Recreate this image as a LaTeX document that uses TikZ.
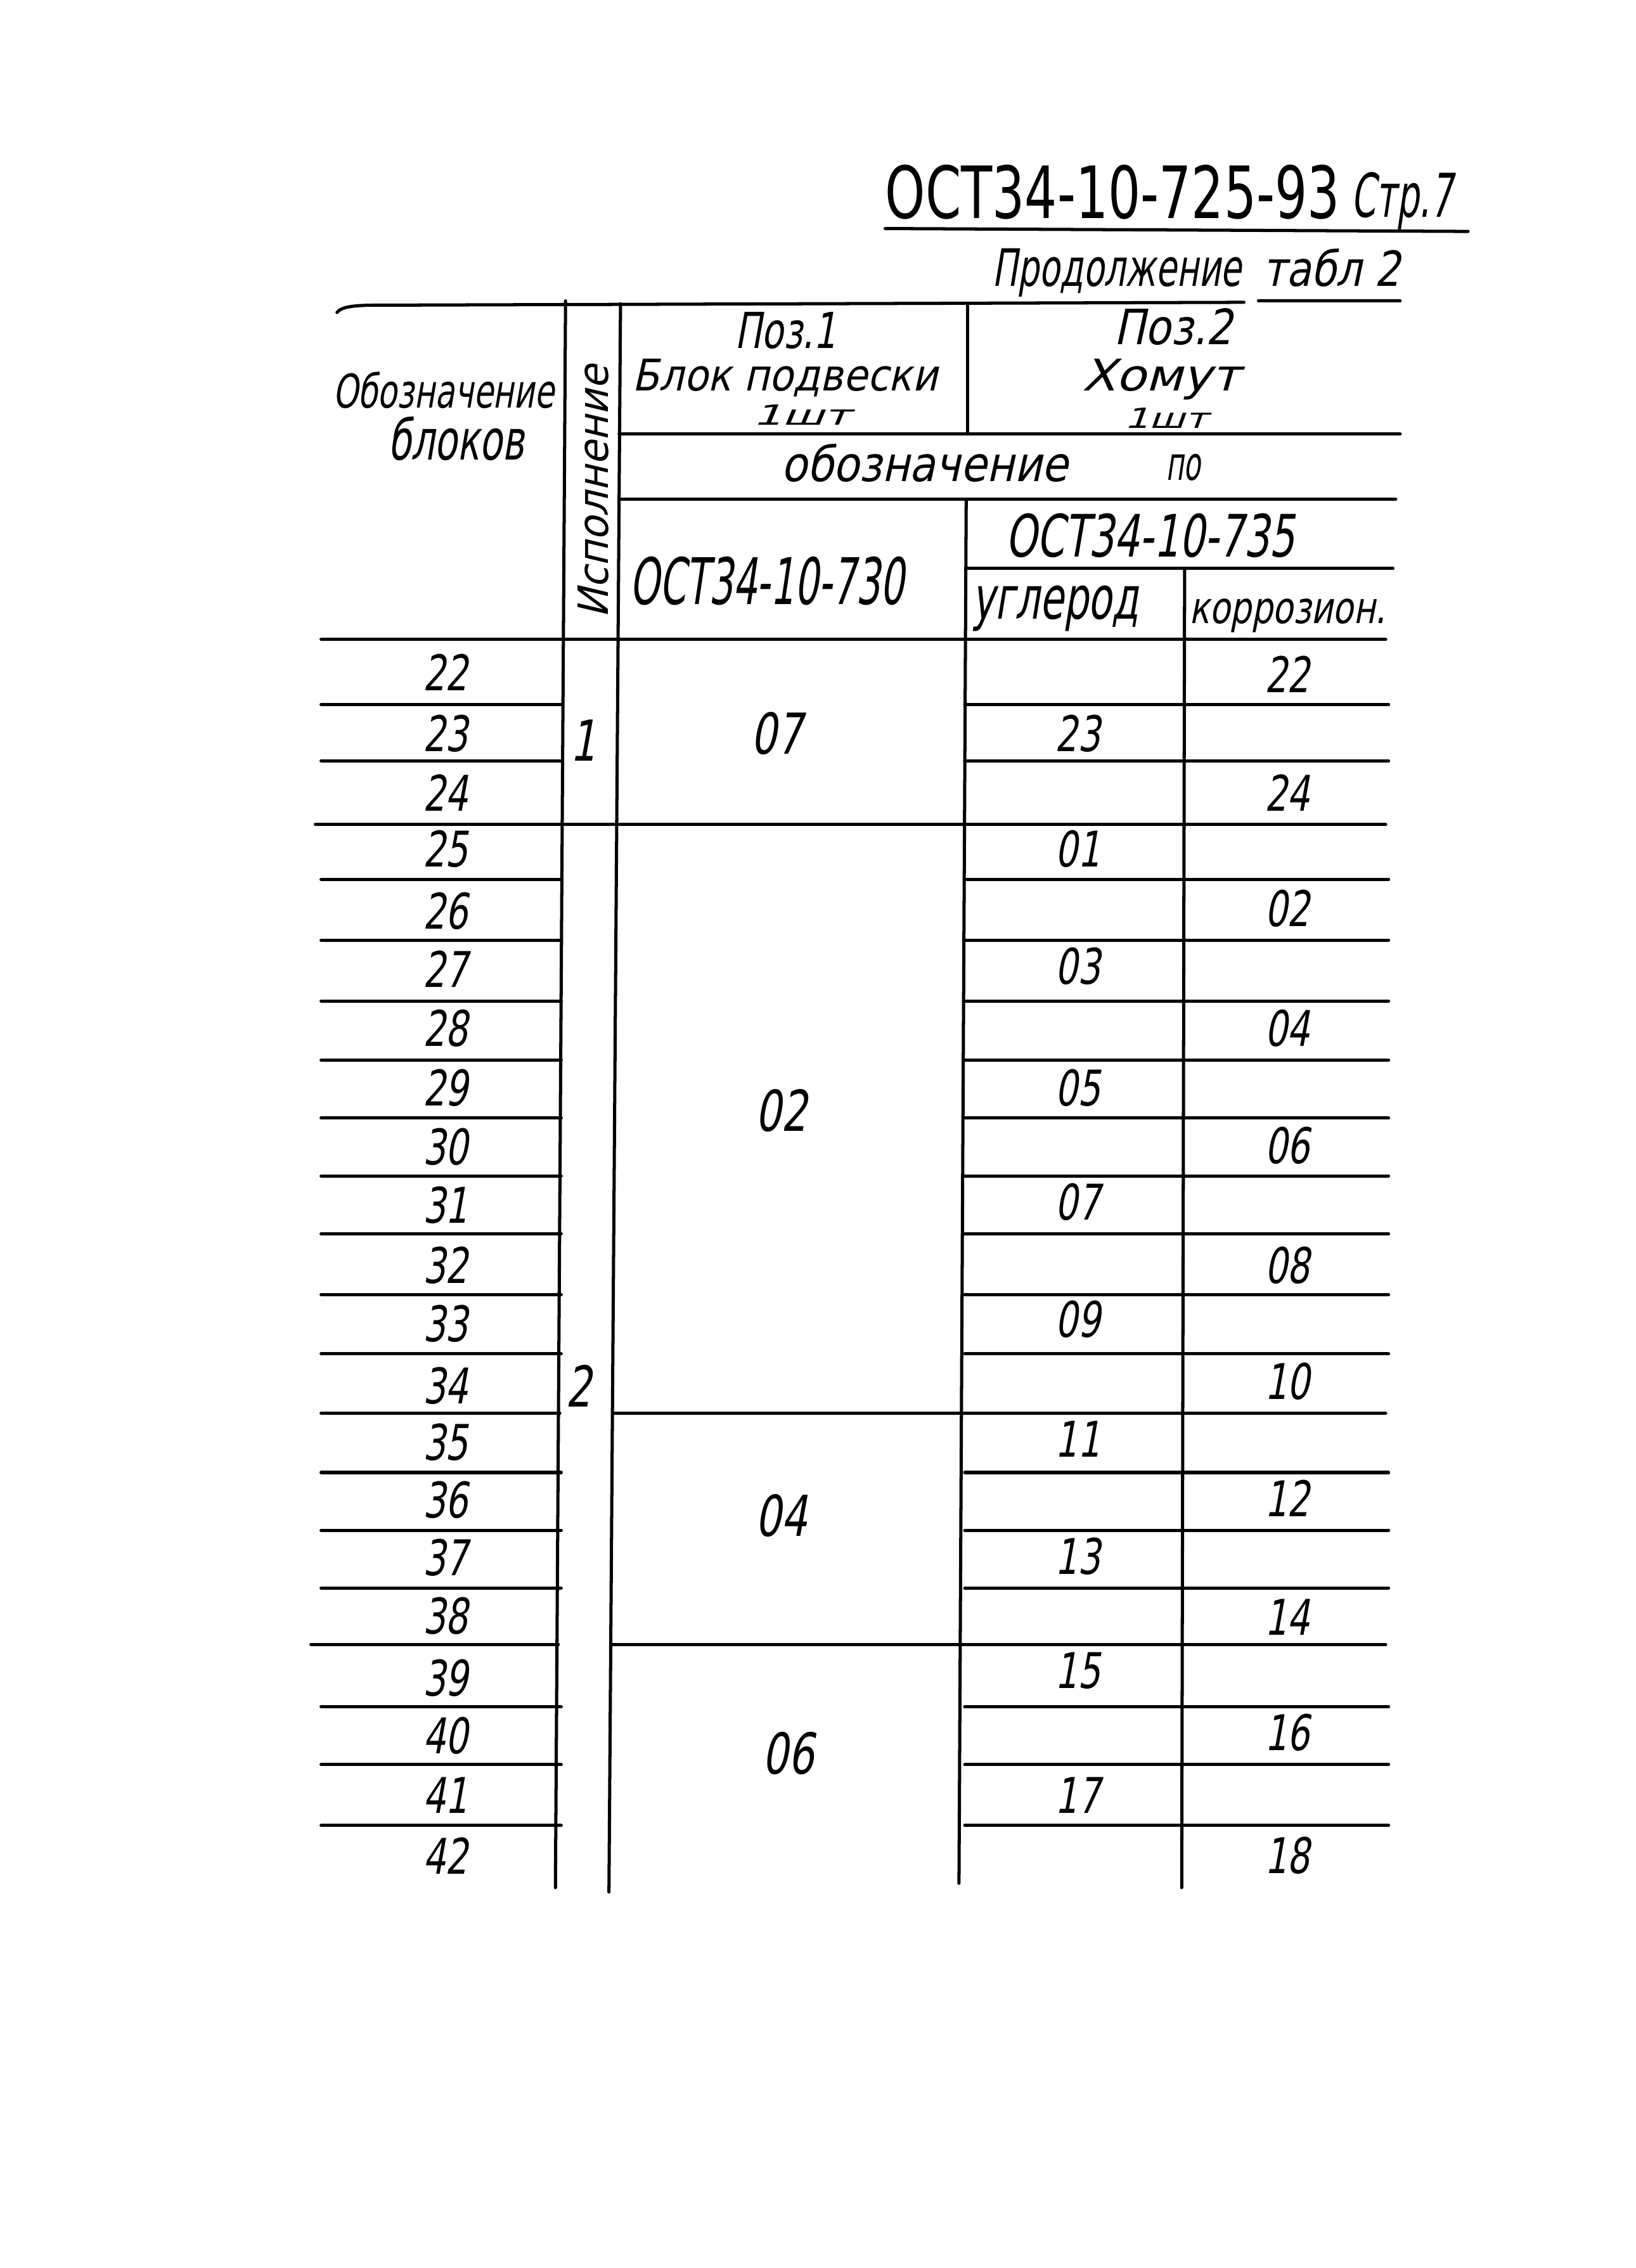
\documentclass[tikz,border=0pt]{standalone}
\usepackage{fontspec}
\usepackage{graphicx}
\newfontfamily\hand{DejaVu Sans}[FakeSlant=0.18,FakeStretch=0.72]
\newfontfamily\handup{DejaVu Sans}[FakeStretch=0.6]
\newcommand\fitbox[3]{\resizebox{#1pt}{#2pt}{#3}}
\tikzset{
  rule/.style={line width=2.2pt, line cap=round},
  num/.style={font=\hand\fontsize{34}{34}\selectfont, inner sep=0pt},
  mid/.style={font=\hand\fontsize{39}{39}\selectfont, inner sep=0pt},
  txt/.style={inner sep=0pt, anchor=base west}
}
\begin{document}
\begin{tikzpicture}[x=1pt,y=-1pt]
\fill[white] (0,0) rectangle (1131,1568);
\useasboundingbox (0,0) rectangle (1131,1568);

% title
\node[txt] (title) at (612,151) {\fitbox{314}{37}{\handup ОСТ34-10-725-93}};
\node[txt] (page) at (934,150) {\fitbox{70}{31}{\hand Стр.7}};
\draw[rule] (612,158) -- (1015,160);
\node[txt] (cont) at (686,198) {\fitbox{172}{26}{\hand Продолжение}};
\node[txt] (tabl) at (873,198) {\fitbox{95}{26}{\hand табл 2}};

% header lines
\draw[rule] (233,216) .. controls (236,212) and (245,211) .. (260,211) -- (860,209);
\draw[rule] (870,208) -- (968,208);
\draw[rule] (428,300) -- (968,300);
\draw[rule] (428,345) -- (965,345);
\draw[rule] (668,393) -- (963,393);
\draw[rule] (222,442) -- (958,442);

% vertical lines
\draw[rule] (391,208) -- (384,1305);
\draw[rule] (429,210) -- (421,1308);
\draw[rule] (669,210) -- (669,300);
\draw[rule] (668,345) -- (663,1302);
\draw[rule] (819,393) -- (817,1305);

% header texts
\node[txt] (h1) at (230,282) {\fitbox{153}{25}{\hand Обозначение}};
\node[txt] (h2) at (268,318) {\fitbox{94}{30}{\hand блоков}};
\node[inner sep=0pt, rotate=90] (h3) at (410,340) {\fitbox{175}{21}{\hand Исполнение}};
\node[txt] (p1) at (508,241) {\fitbox{70}{25}{\hand Поз.1}};
\node[txt] (p1b) at (437,270) {\fitbox{211}{22}{\hand Блок подвески}};
\node[txt] (p1c) at (520,294) {\fitbox{68}{14}{\hand 1шт}};
\node[txt] (p2) at (770,238) {\fitbox{82}{25}{\hand Поз.2}};
\node[txt] (p2b) at (748,270) {\fitbox{109}{22}{\hand Хомут}};
\node[txt] (p2c) at (777,296) {\fitbox{58}{14}{\hand 1шт}};
\node[txt] (oboz) at (540,333) {\fitbox{198}{26}{\hand обозначение}};
\node[txt] (po) at (806,332) {\fitbox{24}{18}{\hand по}};
\node[txt] (ost730) at (435,418) {\fitbox{190}{33}{\hand ОСТ34-10-730}};
\node[txt] (ost735) at (695,385) {\fitbox{200}{30}{\hand ОСТ34-10-735}};
\node[txt] (ugl) at (672,428) {\fitbox{115}{23}{\hand углерод}};
\node[txt] (kor) at (822,431) {\fitbox{136}{17}{\hand коррозион.}};

% row lines (left and right parts)
\foreach \y in {487,526,608,650,692,733,773,813,853,895,936,1018,1058,1098,1180,1220,1262}{
  \draw[rule] (222,\y) -- (388,\y);
  \draw[rule] (667,\y) -- (960,\y);
}
% group boundaries
\draw[rule] (218,570) -- (958,570);
\draw[rule] (222,977) -- (387,977);
\draw[rule] (424,977) -- (958,977);
\draw[rule] (215,1137) -- (386,1137);
\draw[rule] (423,1137) -- (958,1137);

% block numbers
\foreach \n/\y in {22/465,23/507,24/548,25/587,26/630,27/670,28/711,29/752,30/793,31/833,32/875,33/915,34/958,35/997,36/1037,37/1077,38/1117,39/1160,40/1200,41/1241,42/1283}
  \node[num] (b\n) at (308,\y) {\n};

% execution
\node[mid] (e1) at (403,512) {1};
\node[mid] (e2) at (400,958) {2};

% pos.1
\node[mid] (m1) at (537,507) {07};
\node[mid] (m2) at (540,768) {02};
\node[mid] (m3) at (540,1048) {04};
\node[mid] (m4) at (545,1212) {06};

% carbon
\foreach \n/\y [count=\i] in {23/507,01/587,03/668,05/752,07/831,09/912,11/995,13/1076,15/1155,17/1241}
  \node[num] (c\i) at (745,\y) {\n};
% corrosion
\foreach \n/\y [count=\i] in {22/466,24/548,02/628,04/711,06/792,08/875,10/955,12/1036,14/1118,16/1198,18/1283}
  \node[num] (k\i) at (890,\y) {\n};
\end{tikzpicture}
\end{document}
